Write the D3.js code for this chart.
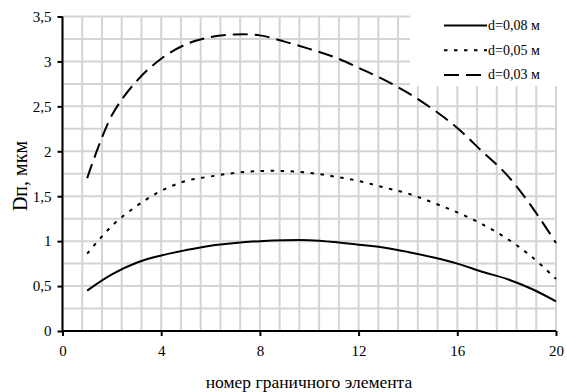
<!DOCTYPE html>
<html>
<head>
<meta charset="utf-8">
<script src="https://cdn.jsdelivr.net/npm/d3@7"></script>
<style>
  body { margin: 0; background: #fff; }
</style>
</head>
<body>
<svg id="chart"></svg>
<script>
// номер граничного элемента
var elements = d3.range(1, 21);
// Dп, мкм for each pipe diameter
var d008 = [0.45, 0.63, 0.76, 0.84, 0.90, 0.95, 0.98, 1.00, 1.01, 1.01, 0.99, 0.96, 0.93, 0.88, 0.82, 0.75, 0.66, 0.58, 0.47, 0.33];
var d005 = [0.86, 1.17, 1.39, 1.56, 1.67, 1.72, 1.76, 1.78, 1.78, 1.76, 1.72, 1.67, 1.60, 1.53, 1.43, 1.32, 1.19, 1.03, 0.83, 0.58];
var d003 = [1.70, 2.40, 2.78, 3.03, 3.19, 3.27, 3.30, 3.29, 3.22, 3.14, 3.05, 2.93, 2.80, 2.65, 2.47, 2.26, 2.00, 1.74, 1.39, 0.98];
var seriesNames = ["d=0,08 м", "d=0,05 м", "d=0,03 м"];
var xTicks = [0, 4, 8, 12, 16, 20];
var yTicks = [0, 0.5, 1, 1.5, 2, 2.5, 3, 3.5];

var width = 567, height = 392;
var margin = {top: 16.5, right: 11, bottom: 61, left: 62.5};
var serif = "'Liberation Serif', 'Times New Roman', serif";

var svg = d3.select("#chart")
    .attr("width", width)
    .attr("height", height)
    .style("font-family", serif);

var x = d3.scaleLinear().domain([0, 20]).range([margin.left, width - margin.right]);
var y = d3.scaleLinear().domain([0, 3.5]).range([height - margin.bottom, margin.top]);

var fmt = function(d) { return String(d).replace(".", ","); };

// grid
var grid = svg.append("g");
grid.selectAll(".vg")
    .data(d3.range(0, 26).map(function(i) { return i * 0.8; }))
    .enter().append("line")
    .attr("x1", function(d) { return x(d); })
    .attr("x2", function(d) { return x(d); })
    .attr("y1", y(0))
    .attr("y2", y(3.5))
    .attr("stroke", "#d4d4d4")
    .attr("stroke-width", 2);
grid.selectAll(".hg")
    .data(d3.range(1, 15).map(function(i) { return i * 0.25; }))
    .enter().append("line")
    .attr("x1", x(0))
    .attr("x2", x(20))
    .attr("y1", function(d) { return y(d); })
    .attr("y2", function(d) { return y(d); })
    .attr("stroke", "#d4d4d4")
    .attr("stroke-width", 2);

// lines
var series = [
  {name: seriesNames[0], values: d008, dash: null},
  {name: seriesNames[1], values: d005, dash: "3.5,6.5"},
  {name: seriesNames[2], values: d003, dash: "15,7"}
];

var line = d3.line()
    .curve(d3.curveCatmullRom)
    .x(function(d, i) { return x(elements[i]); })
    .y(function(d) { return y(d); });

svg.selectAll(".series")
    .data(series)
    .enter().append("path")
    .attr("d", function(d) { return line(d.values); })
    .attr("fill", "none")
    .attr("stroke", "#000")
    .attr("stroke-width", 2)
    .attr("stroke-dasharray", function(d) { return d.dash; });

// axes
var xAxis = svg.append("g")
    .attr("transform", "translate(0," + y(0) + ")")
    .call(d3.axisBottom(x).tickValues(xTicks).tickSize(5).tickPadding(9).tickFormat(fmt));
var yAxis = svg.append("g")
    .attr("transform", "translate(" + x(0) + ",0)")
    .call(d3.axisLeft(y).tickValues(yTicks).tickSize(5).tickPadding(6).tickFormat(fmt));
[xAxis, yAxis].forEach(function(a) {
  a.attr("font-family", null).attr("font-size", null);
  a.select(".domain").attr("stroke-width", 2).attr("d", a === xAxis
      ? "M" + x(0) + ",0H" + x(20)
      : "M0," + y(0) + "V" + y(3.5));
  a.selectAll(".tick line").attr("stroke-width", 2);
  a.selectAll("text").style("font-size", "15px").style("font-family", serif);
});

// legend
var legend = svg.append("g");
legend.append("rect")
    .attr("x", 410).attr("y", 0)
    .attr("width", width - 410).attr("height", 86)
    .attr("fill", "#fff");
series.forEach(function(s, i) {
  var ly = 25.5 + i * 24.7;
  legend.append("line")
      .attr("x1", 444).attr("x2", 487)
      .attr("y1", ly).attr("y2", ly)
      .attr("stroke", "#000")
      .attr("stroke-width", 2)
      .attr("stroke-dasharray", s.dash);
  legend.append("text")
      .attr("x", 488).attr("y", ly + 4.5)
      .style("font-size", "14px")
      .text(s.name);
});

// axis titles
svg.append("text")
    .attr("transform", "translate(27," + 176 + ") rotate(-90)")
    .attr("text-anchor", "middle")
    .style("font-size", "20px")
    .text("Dп, мкм");
svg.append("text")
    .attr("x", 309).attr("y", 388)
    .attr("text-anchor", "middle")
    .style("font-size", "17.5px")
    .text("номер граничного элемента");
</script>
</body>
</html>
